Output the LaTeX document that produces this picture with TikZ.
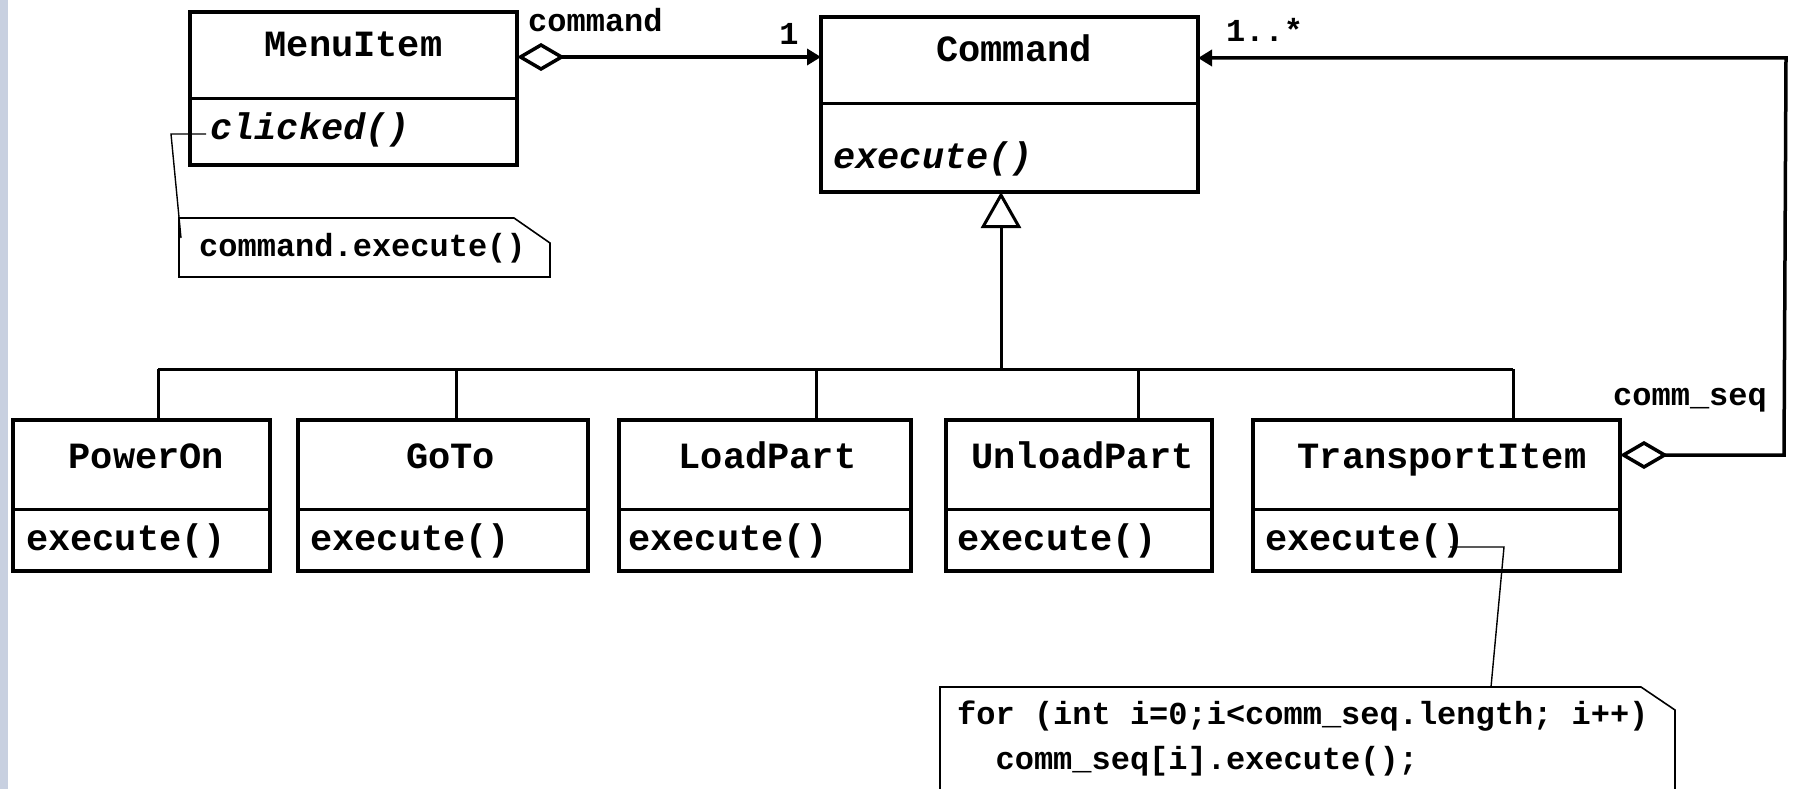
\documentclass[tikz,border=0pt]{standalone}
\usepackage{fontspec}
\setmonofont{Liberation Mono}
\usetikzlibrary{arrows.meta,calc}
\newcommand\clsfont{\fontsize{37}{40}\selectfont\ttfamily\bfseries}
\newcommand\lblfont{\fontsize{32}{40}\selectfont\ttfamily\bfseries}
\definecolor{stripcol}{RGB}{200,208,224}
\begin{document}
\begin{tikzpicture}[x=1pt,y=-1pt,
  classbox/.style={draw, line width=3.5pt, inner sep=0pt, outer sep=0pt, anchor=north west},
  divider/.style={line width=3pt},
  cname/.style={font=\clsfont, inner sep=0pt, anchor=base},
  meth/.style={font=\clsfont, inner sep=0pt, anchor=base west},
  imeth/.style={font=\clsfont\itshape, inner sep=0pt, anchor=base west},
  lbl/.style={font=\lblfont, inner sep=0pt, anchor=base west},
  assoc/.style={line width=3.5pt},
  genline/.style={line width=3pt},
  notebox/.style={line width=1.6pt},
  noteline/.style={line width=1.4pt},
]
\clip (0,0) rectangle (1794,789);
\fill[white] (0,0) rectangle (1794,789);
\fill[stripcol] (0,0) rectangle (8,789);

% class boxes
\node[classbox, minimum width=327pt, minimum height=153pt] (menu) at (190,12) {};
\node[classbox, minimum width=377pt, minimum height=175pt] (cmd) at (821,17) {};
\node[classbox, minimum width=257pt, minimum height=151pt] (po) at (13,420) {};
\node[classbox, minimum width=290pt, minimum height=151pt] (goto) at (298,420) {};
\node[classbox, minimum width=292pt, minimum height=151pt] (load) at (619,420) {};
\node[classbox, minimum width=266pt, minimum height=151pt] (unload) at (946,420) {};
\node[classbox, minimum width=367pt, minimum height=151pt] (trans) at (1253,420) {};

% dividers
\coordinate (dm) at (0,99);
\coordinate (dc) at (0,104);
\coordinate (ds) at (0,509);
\draw[divider] (menu.west |- dm) -- (menu.east |- dm);
\draw[divider] (cmd.west |- dc) -- (cmd.east |- dc);
\foreach \b in {po,goto,load,unload,trans}
  \draw[divider] (\b.west |- ds) -- (\b.east |- ds);

% class texts
\node[cname] (tmenu) at (353.5,57) {MenuItem};
\node[imeth] (mclick) at (210,140) {clicked()};
\node[cname] (tcmd) at (1014,62) {Command};
\node[imeth] (mcmd) at (833,168) {execute()};
\node[cname] (tpo) at (146.5,468) {PowerOn};
\node[cname] (tgoto) at (450.5,468) {GoTo};
\node[cname] (tload) at (767.5,468) {LoadPart};
\node[cname] (tunload) at (1082.5,468) {UnloadPart};
\node[cname] (ttrans) at (1442,468) {TransportItem};
\node[meth] (mpo) at (26,550) {execute()};
\node[meth] (mgoto) at (310,550) {execute()};
\node[meth] (mload) at (628,550) {execute()};
\node[meth] (munload) at (957,550) {execute()};
\node[meth] (mtrans) at (1265,550) {execute()};

% labels
\node[lbl] (lcommand) at (528,32) {command};
\node[lbl, anchor=base] (lone) at (789,45) {1};
\node[lbl] (lmany) at (1226,42) {1..*};
\node[lbl] (lseq) at (1613,405) {comm\_seq};

% associations
\coordinate (a1) at (700,57);
\draw[assoc, {Diamond[open, length=48pt, width=28pt]}-{Triangle[length=14pt, width=16pt]}]
  (menu.east |- a1) -- (cmd.west |- a1);
\coordinate (r1) at (1784,455);
\coordinate (r2) at (1786,58);
\draw[assoc, line join=miter, {Diamond[open, length=48pt, width=28pt]}-{Triangle[length=14pt, width=16pt]}]
  (trans.east |- r1) -- (r1) -- (r2) -- (cmd.east |- r2);

% generalization
\coordinate (g0) at (1001,369);
\draw[genline, -{Triangle[open, length=36pt, width=40pt]}] (g0) -- (cmd.south -| g0);
\coordinate (bL) at (158,369);
\coordinate (b2) at (456,369);
\coordinate (b3) at (816,369);
\coordinate (b4) at (1138,369);
\coordinate (bR) at (1513,369);
\draw[genline] (bL) -- (bR);
\draw[genline] (bL) -- (po.north -| bL);
\draw[genline] (b2) -- (goto.north -| b2);
\draw[genline] (b3) -- (load.north -| b3);
\draw[genline] (b4) -- (unload.north -| b4);
\draw[genline] (bR) -- (trans.north -| bR);

% note 1
\draw[notebox] (179,218) -- (514,218) -- (550,243) -- (550,277) -- (179,277) -- cycle;
\node[lbl] (note1) at (199,256) {command.execute()};
\coordinate (k1) at (206,134);
\coordinate (k2) at (171,134);
\coordinate (k3) at (181,238);
\draw[noteline] (k1) -- (k2) -- (k3);

% note 2
\draw[notebox] (940,687) -- (1641,687) -- (1675,710) -- (1675,800) -- (940,800) -- cycle;
\node[lbl] (note2a) at (957,724) {for (int i=0;i<comm\_seq.length; i++)};
\node[lbl] (note2b) at (995.4,769) {comm\_seq[i].execute();};
\coordinate (t1) at (1450,547);
\coordinate (t2) at (1504,547);
\coordinate (t3) at (1491,687);
\draw[noteline] (t1) -- (t2) -- (t3);
\end{tikzpicture}
\end{document}
